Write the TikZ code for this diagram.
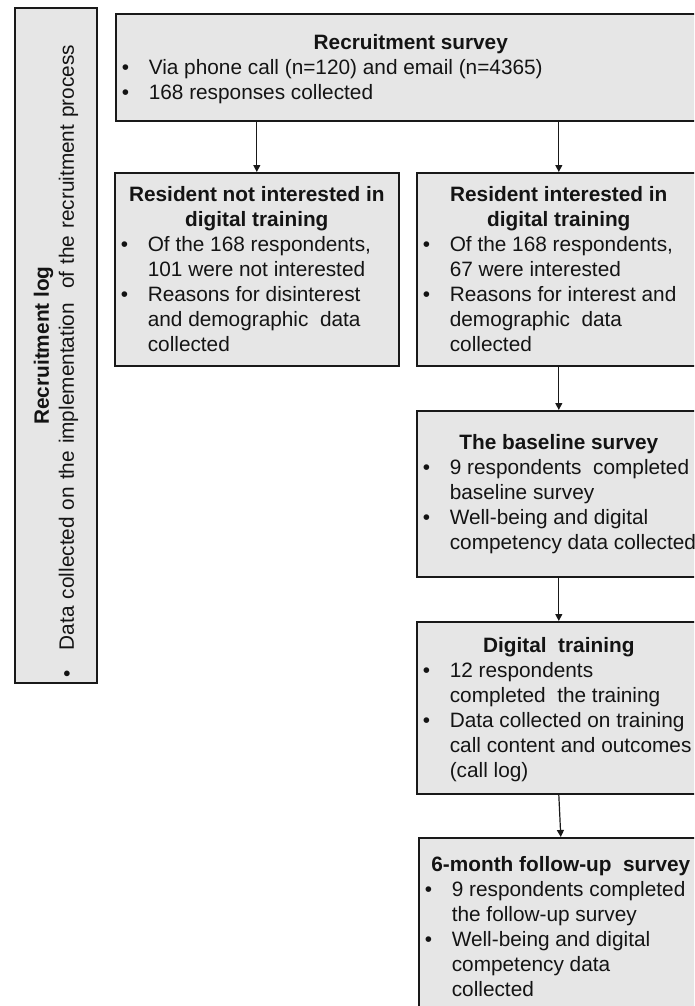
\documentclass[tikz,border=0pt]{standalone}
\usepackage{fontspec}
\setmainfont{Liberation Sans}
\usetikzlibrary{arrows.meta}
\definecolor{boxfill}{RGB}{230,230,230}
\definecolor{boxline}{RGB}{25,25,25}
\definecolor{txt}{RGB}{20,20,20}
\newcommand{\bitem}[1]{\par\noindent\hangindent=33pt\hangafter=1\hspace*{6pt}\makebox[27pt][l]{\textbullet}#1\par}
\newcommand{\btitle}[1]{{\centering\bfseries #1\par}}
\begin{document}
\begin{tikzpicture}[x=1pt,y=-1pt,
  box/.style={draw=boxline,fill=boxfill,line width=1.6pt,rectangle,inner sep=0pt,
    text=txt,font=\fontsize{20.8pt}{25pt}\selectfont},
  arr/.style={draw=boxline,line width=1.2pt,-{Triangle[width=7pt,length=7pt]}}]
\useasboundingbox (0,0) rectangle (694,1006);
\clip (0,0) rectangle (694,1006);
% left log box (rotated)
\node[box,rotate=90,minimum width=675pt,minimum height=82pt] (log) at (56,345.5)
  {\parbox{675pt}{\btitle{Recruitment log}\bitem{\spaceskip=7pt plus 1pt Data collected on the implementation\ \ of the recruitment process}}};
% top box
\node[box,anchor=north west,minimum width=590pt,minimum height=107pt] (top) at (115,13)
  {\parbox{590pt}{\vspace*{4pt}\btitle{Recruitment survey}\bitem{Via phone call (n=120) and email (n=4365)}\bitem{168 responses collected}}};
% middle boxes
\node[box,anchor=north west,minimum width=284pt,minimum height=193pt] (notint) at (114,172)
  {\parbox{284pt}{\btitle{Resident not interested in\\digital training}\bitem{Of the 168 respondents,\\101 were not interested}\bitem{Reasons for disinterest\\and demographic\ \ data\\collected}}};
\node[box,anchor=north west,minimum width=284pt,minimum height=193pt] (int) at (416,172)
  {\parbox{284pt}{\btitle{Resident interested in\\digital training}\bitem{Of the 168 respondents,\\67 were interested}\bitem{Reasons for interest and\\demographic\ \ data\\collected}}};
% right column
\node[box,anchor=north west,minimum width=284pt,minimum height=166pt] (base) at (416,410)
  {\parbox{284pt}{\btitle{The baseline survey}\bitem{9 respondents\ \ completed\\baseline survey}\bitem{Well-being and digital\\competency data collected}}};
\node[box,anchor=north west,minimum width=284pt,minimum height=172pt] (train) at (416,621)
  {\parbox{284pt}{\vspace*{4pt}\btitle{Digital\ \ training}\bitem{12 respondents\\completed\ \ the training}\bitem{Data collected on training\\call content and outcomes\\(call log)}}};
\node[box,anchor=north west,minimum width=284pt,minimum height=178pt] (follow) at (418,837)
  {\parbox{284pt}{\btitle{6-month follow-up\ \ survey}\bitem{9 respondents completed\\the follow-up survey}\bitem{Well-being and digital\\competency data\\collected}}};
% connectors
\draw[arr] (top.south -| notint.north) -- (notint.north);
\draw[arr] (top.south -| int.north) -- (int.north);
\draw[arr] (int.south) -- (base.north);
\draw[arr] (base.south) -- (train.north);
\draw[arr] (train.south) -- (follow.north);
\end{tikzpicture}
\end{document}
